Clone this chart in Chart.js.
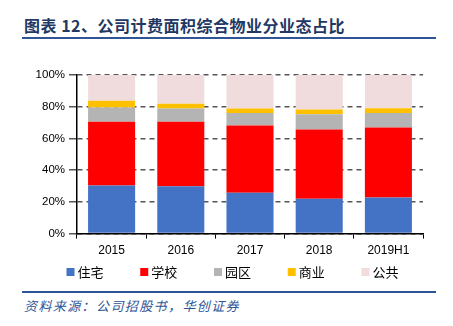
<!DOCTYPE html>
<html><head><meta charset="utf-8">
<script src="https://cdn.jsdelivr.net/npm/chart.js@4"></script>
<style>
html,body{margin:0;padding:0;background:#fff;width:453px;height:326px;overflow:hidden;font-family:"Noto Sans CJK SC",sans-serif;}
#title{position:absolute;left:24px;top:13px;font-size:16px;font-weight:bold;color:#1F3864;white-space:nowrap;letter-spacing:0.5px;}
#line1{position:absolute;left:22px;top:37px;width:414px;height:2px;background:#2F5597;}
#wrap{position:absolute;left:0;top:40px;width:453px;height:250px;}
#line2{position:absolute;left:22px;top:291px;width:414px;height:2px;background:#2F5597;}
#src{position:absolute;left:24px;top:296px;font-size:13px;font-style:italic;color:#2F5597;white-space:nowrap;letter-spacing:1.4px;}
</style></head>
<body>
<div id="title">图表 12、公司计费面积综合物业分业态占比</div>
<div id="line1"></div>
<div id="wrap"><canvas id="c" width="453" height="250"></canvas></div>
<div id="line2"></div>
<div id="src">资料来源：公司招股书，华创证券</div>
<script>
const categories = ["2015","2016","2017","2018","2019H1"];
const residential = [30.3, 29.9, 25.7, 22.0, 22.8];
const school      = [40.2, 40.6, 42.5, 43.7, 44.1];
const park        = [9.0, 8.3, 7.9, 9.6, 9.2];
const commercial  = [4.2, 3.0, 2.7, 2.9, 3.0];
const publicUse   = [16.3, 18.2, 21.2, 21.8, 20.9];
const yTicks = [0,20,40,60,80,100];

const mk = (label, data, color) => ({label, data, backgroundColor: color, borderWidth: 0, barPercentage: 0.68, categoryPercentage: 1.0});

const customLegend = {
  id: 'customLegend',
  afterDraw(chart) {
    const ctx = chart.ctx;
    const ds = chart.data.datasets;
    const pitch = 73.75, y = 232;
    ctx.save();
    ctx.font = '13px "Noto Sans CJK SC"';
    ctx.textBaseline = 'middle';
    ctx.textAlign = 'left';
    const lastW = 11 + ctx.measureText(ds[ds.length-1].label).width;
    const total = pitch * (ds.length - 1) + lastW;
    let x = chart.width / 2 + 6 - total / 2;
    ds.forEach(d => {
      ctx.fillStyle = d.backgroundColor;
      ctx.fillRect(x, y - 4, 8, 8);
      ctx.fillStyle = '#000';
      ctx.fillText(d.label, x + 11, y + 0.5);
      x += pitch;
    });
    ctx.restore();
  }
};

new Chart(document.getElementById('c'), {
  type: 'bar',
  data: {
    labels: categories,
    datasets: [
      mk('住宅', residential, '#4472C4'),
      mk('学校', school, '#FF0000'),
      mk('园区', park, '#B4B4B4'),
      mk('商业', commercial, '#FFC000'),
      mk('公共', publicUse, '#F0DCDC')
    ]
  },
  options: {
    responsive: false,
    animation: false,
    layout: {padding: {top: 35, right: 30, left: 0, bottom: 27}},
    plugins: {
      tooltip: {enabled: false},
      legend: {display: false}
    },
    scales: {
      x: {
        stacked: true,
        grid: {offset: true, drawOnChartArea: false, drawTicks: true, tickLength: 5, color: '#000', lineWidth: 1},
        border: {color: '#000', width: 1.5},
        ticks: {color: '#000', font: {family: 'Liberation Sans, Arial', size: 12}, padding: 5}
      },
      y: {
        stacked: true,
        min: 0, max: 100,
        afterBuildTicks: ax => { ax.ticks = yTicks.map(v => ({value: v})); },
        afterFit: ax => { ax.width = 77; },
        grid: {color: '#555', lineWidth: 1.5, tickLength: 8, drawTicks: true},
        border: {color: '#000', width: 1.5, dash: [5,4]},
        ticks: {color: '#000', font: {family: 'Liberation Sans, Arial', size: 11.5}, padding: 4, callback: v => v + '%'}
      }
    }
  },
  plugins: [customLegend]
});
</script>
</body></html>
